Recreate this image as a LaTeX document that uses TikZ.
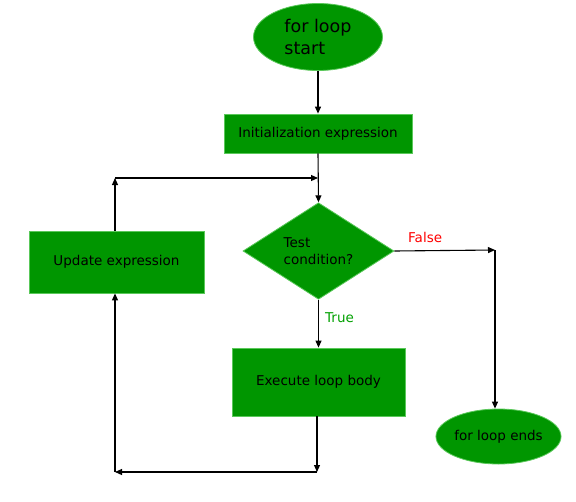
\documentclass[tikz,border=0pt]{standalone}
\usepackage{fontspec}
\setmainfont{DejaVu Sans}
\usetikzlibrary{shapes.geometric,arrows.meta}
\definecolor{boxgreen}{RGB}{0,150,0}
\definecolor{edgegreen}{RGB}{90,200,90}
\definecolor{truegreen}{RGB}{0,160,0}
\definecolor{falsered}{RGB}{255,0,0}
\tikzset{
  base/.style={fill=boxgreen,draw=edgegreen,line width=0.8pt,inner sep=0pt,text=black,font=\fontsize{13.5}{17}\selectfont},
  boxnode/.style={base,rectangle},
  ellnode/.style={base,ellipse},
  decnode/.style={base,diamond,align=left},
  conn/.style={line width=1.1pt,-{Triangle[length=7pt,width=6pt]}},
  lbl/.style={font=\fontsize{13.5}{17}\selectfont,anchor=base west,inner sep=0pt}
}
\begin{document}
\begin{tikzpicture}[x=1pt,y=-1pt]
\useasboundingbox (0,0) rectangle (576,501);
\node[ellnode,minimum width=129pt,minimum height=67pt,align=left,font=\fontsize{17.5}{22}\selectfont] (start) at (318,37) {for loop\\start};
\node[boxnode,minimum width=188pt,minimum height=39pt] (init) at (318,133.5) {Initialization expression};
\node[decnode,minimum width=151pt,minimum height=88pt,font=\fontsize{13.5}{17}\selectfont] (test) at (318.5,251) {Test\\condition?};
\node[boxnode,minimum width=175pt,minimum height=62pt] (update) at (116.5,262) {Update expression};
\node[boxnode,minimum width=173pt,minimum height=68pt] (exec) at (318.5,382) {Execute loop body};
\node[ellnode,minimum width=119pt,minimum height=55pt] (endl) at (498.5,436.5) {for loop ends};
\node[lbl,text=falsered] (false) at (408,242) {False};
\node[lbl,text=truegreen] (true) at (325,322) {True};
\coordinate (uptop) at (115,178);
\coordinate (joinr) at (318,178);
\coordinate (fcorner) at (495,250);
\coordinate (bright) at (317,472);
\coordinate (bleft) at (115,472);
\draw[conn] (start.south) -- (init.north);
\draw[conn] (init.south) -- (test.north);
\draw[conn] (update.north -| uptop) -- (uptop);
\draw[conn] (uptop) -- (joinr);
\draw[conn] (test.east) -- (fcorner);
\draw[conn] (fcorner) -- (endl.north -| fcorner);
\draw[conn] (test.south) -- (exec.north);
\draw[conn] (exec.south -| bright) -- (bright);
\draw[conn] (bright) -- (bleft);
\draw[conn] (bleft) -- (update.south -| bleft);
\end{tikzpicture}
\end{document}
